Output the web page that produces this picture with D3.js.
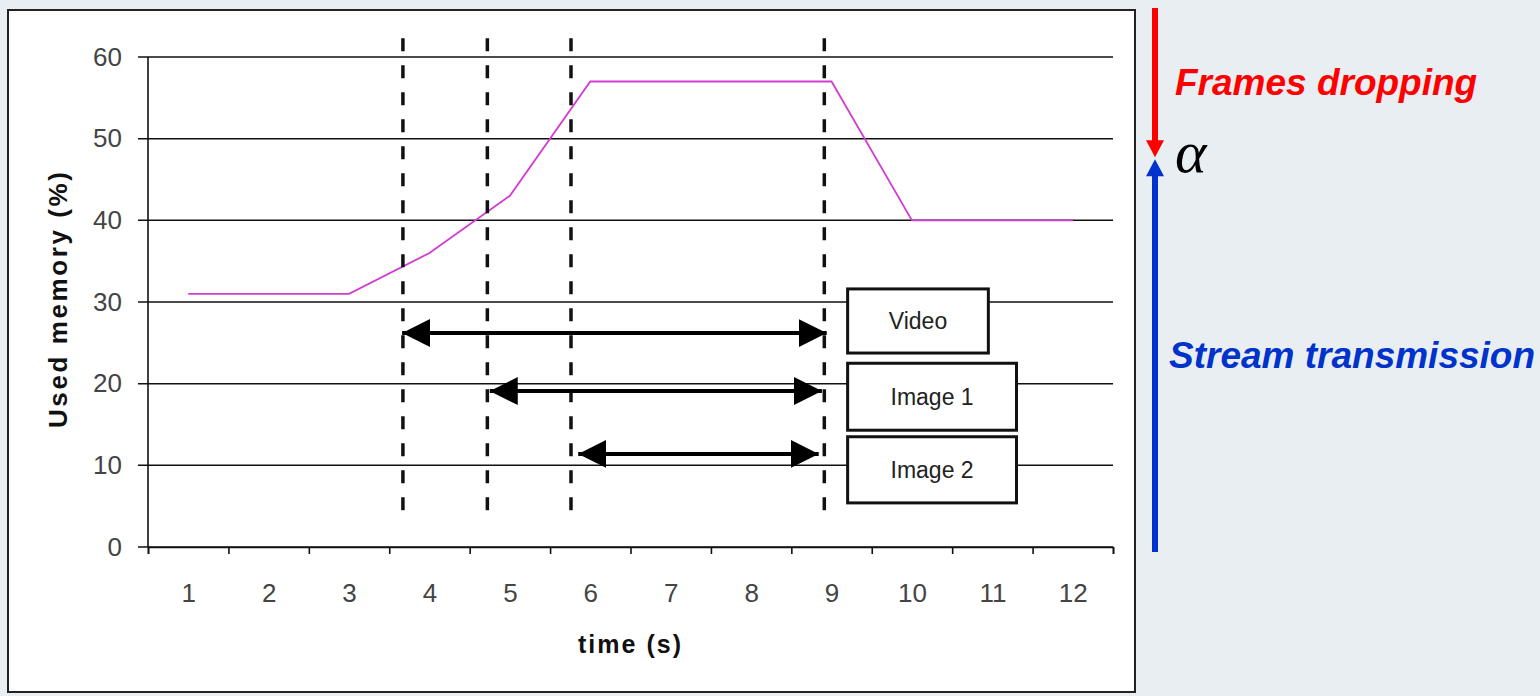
<!DOCTYPE html>
<html>
<head>
<meta charset="utf-8">
<script src="https://cdn.jsdelivr.net/npm/d3@7"></script>
<style>
  body { margin: 0; background: #e9eef3; }
  svg { display: block; }
</style>
</head>
<body>
<div id="chart"></div>
<script>
// data
const times = [1, 2, 3, 4, 5, 6, 7, 8, 9, 10, 11, 12];
const usedMemory = [31, 31, 31, 36, 43, 57, 57, 57, 57, 40, 40, 40];
const yTicks = [0, 10, 20, 30, 40, 50, 60];

// dashed event markers (time, s)
const markerTimes = [3.67, 4.72, 5.76, 8.91];

// stream intervals: double arrows + labelled boxes
const streamNames = ["Video", "Image 1", "Image 2"];
const streamStart = [3.66, 4.75, 5.85];
const streamEnd = [8.94, 8.88, 8.84];
const streamLevel = [26.2, 19.1, 11.4];
const boxLeft = [9.2, 9.2, 9.2];
const boxRight = [10.95, 11.3, 11.3];
const boxTop = [31.6, 22.5, 13.5];
const boxBottom = [23.75, 14.3, 5.4];

// threshold alpha (memory %)
const alphaLevel = 47.6;
const sideLabels = ["Frames dropping", "Stream transmission"];

const W = 1540, H = 696;
const margin = {top: 57, right: 427, bottom: 149, left: 148};

const svg = d3.select("#chart").append("svg")
    .attr("width", W)
    .attr("height", H);

// white chart frame
svg.append("rect")
    .attr("x", 8).attr("y", 10)
    .attr("width", 1127).attr("height", 682)
    .attr("fill", "white")
    .attr("stroke", "#222")
    .attr("stroke-width", 2);

const x = d3.scaleLinear().domain([0.5, 12.5]).range([margin.left, W - margin.right]);
const y = d3.scaleLinear().domain([0, 60]).range([H - margin.bottom, margin.top]);

const g = svg.append("g");

// gridlines (extend a bit left as ticks)
g.selectAll(".grid")
    .data(yTicks)
    .enter().append("line")
    .attr("x1", x(0.5) - 10)
    .attr("x2", x(12.5))
    .attr("y1", d => y(d))
    .attr("y2", d => y(d))
    .attr("stroke", "#111")
    .attr("stroke-width", 1.5);

// y axis line
g.append("line")
    .attr("x1", x(0.5)).attr("x2", x(0.5))
    .attr("y1", y(0)).attr("y2", y(60))
    .attr("stroke", "#111")
    .attr("stroke-width", 1.6);

// y tick labels
const yAxis = g.append("g")
    .attr("transform", "translate(" + (x(0.5) - 26) + ",0)")
    .call(d3.axisLeft(y).tickValues(yTicks).tickSize(0).tickPadding(0));
yAxis.select(".domain").remove();
yAxis.selectAll("text")
    .attr("font-family", "Liberation Sans, Arial, sans-serif")
    .attr("font-size", 26)
    .attr("fill", "#444");

// x axis: ticks between categories
const boundaries = d3.range(0, 13).map(i => i + 0.5);
const xTicks = g.append("g")
    .attr("transform", "translate(0," + y(0) + ")")
    .call(d3.axisBottom(x).tickValues(boundaries).tickSize(7).tickFormat(""));
xTicks.select(".domain").attr("stroke", "#111").attr("stroke-width", 1.6);
xTicks.selectAll(".tick line").attr("stroke", "#111").attr("stroke-width", 1.6);

const xLabels = g.append("g")
    .attr("transform", "translate(0," + (y(0) + 34) + ")")
    .call(d3.axisBottom(x).tickValues(times).tickSize(0).tickFormat(d3.format("d")));
xLabels.select(".domain").remove();
xLabels.selectAll("text")
    .attr("font-family", "Liberation Sans, Arial, sans-serif")
    .attr("font-size", 26)
    .attr("fill", "#444");

// axis titles
g.append("text")
    .attr("x", x(6.5))
    .attr("y", 653)
    .attr("text-anchor", "middle")
    .attr("font-family", "Liberation Sans, Arial, sans-serif")
    .attr("font-size", 25)
    .attr("font-weight", "bold")
    .attr("letter-spacing", 2)
    .attr("fill", "#111")
    .text("time (s)");

g.append("text")
    .attr("transform", "translate(67," + y(30.4) + ") rotate(-90)")
    .attr("text-anchor", "middle")
    .attr("font-family", "Liberation Sans, Arial, sans-serif")
    .attr("font-size", 26)
    .attr("font-weight", "bold")
    .attr("letter-spacing", 2.6)
    .attr("fill", "#111")
    .text("Used memory (%)");

// memory line
const memLine = d3.line()
    .x((d, i) => x(times[i]))
    .y(d => y(d));

g.append("path")
    .datum(usedMemory)
    .attr("fill", "none")
    .attr("stroke", "#d23cd2")
    .attr("stroke-width", 1.8)
    .attr("d", memLine);

// dashed event markers
g.selectAll(".marker")
    .data(markerTimes)
    .enter().append("line")
    .attr("x1", d => x(d)).attr("x2", d => x(d))
    .attr("y1", y(62.3)).attr("y2", y(3.3))
    .attr("stroke", "#111")
    .attr("stroke-width", 3.5)
    .attr("stroke-dasharray", "13,14");

// arrowhead marker
const defs = svg.append("defs");
defs.append("marker")
    .attr("id", "head")
    .attr("markerUnits", "userSpaceOnUse")
    .attr("viewBox", "0 0 28 28")
    .attr("markerWidth", 28)
    .attr("markerHeight", 28)
    .attr("refX", 28)
    .attr("refY", 14)
    .attr("orient", "auto-start-reverse")
    .append("path")
    .attr("d", "M0,0 L28,14 L0,28 Z")
    .attr("fill", "#000");

g.selectAll(".span")
    .data(streamNames)
    .enter().append("line")
    .attr("x1", (d, i) => x(streamStart[i]))
    .attr("x2", (d, i) => x(streamEnd[i]))
    .attr("y1", (d, i) => y(streamLevel[i]))
    .attr("y2", (d, i) => y(streamLevel[i]))
    .attr("stroke", "#000")
    .attr("stroke-width", 4)
    .attr("marker-start", "url(#head)")
    .attr("marker-end", "url(#head)");

// labelled boxes
const boxes = g.selectAll(".box")
    .data(streamNames)
    .enter().append("g");

boxes.append("rect")
    .attr("x", (d, i) => x(boxLeft[i]))
    .attr("y", (d, i) => y(boxTop[i]))
    .attr("width", (d, i) => x(boxRight[i]) - x(boxLeft[i]))
    .attr("height", (d, i) => y(boxBottom[i]) - y(boxTop[i]))
    .attr("fill", "white")
    .attr("stroke", "#111")
    .attr("stroke-width", 3);

boxes.append("text")
    .attr("x", (d, i) => (x(boxLeft[i]) + x(boxRight[i])) / 2)
    .attr("y", (d, i) => (y(boxTop[i]) + y(boxBottom[i])) / 2)
    .attr("dy", "0.36em")
    .attr("text-anchor", "middle")
    .attr("font-family", "Liberation Sans, Arial, sans-serif")
    .attr("font-size", 23)
    .attr("fill", "#222")
    .text(d => d);

// right side: threshold arrows
const ax = 1155;
const tip = y(alphaLevel);
const headLen = 17, headHalf = 9;

svg.append("line")
    .attr("x1", ax).attr("x2", ax)
    .attr("y1", 8).attr("y2", tip - headLen)
    .attr("stroke", "#ff0000")
    .attr("stroke-width", 6);
svg.append("path")
    .attr("d", "M" + (ax - headHalf) + "," + (tip - 1 - headLen) + " L" + (ax + headHalf) + "," + (tip - 1 - headLen) + " L" + ax + "," + (tip - 1) + " Z")
    .attr("fill", "#ff0000");

svg.append("line")
    .attr("x1", ax).attr("x2", ax)
    .attr("y1", y(0) + 5).attr("y2", tip + headLen)
    .attr("stroke", "#0033cc")
    .attr("stroke-width", 6);
svg.append("path")
    .attr("d", "M" + (ax - headHalf) + "," + (tip + 1 + headLen) + " L" + (ax + headHalf) + "," + (tip + 1 + headLen) + " L" + ax + "," + (tip + 1) + " Z")
    .attr("fill", "#0033cc");

svg.append("text")
    .attr("x", 1175)
    .attr("y", tip + 14)
    .attr("font-family", "Liberation Serif, Times New Roman, serif")
    .attr("font-style", "italic")
    .attr("font-size", 60)
    .attr("fill", "#000")
    .text("α");

svg.append("text")
    .attr("x", 1175)
    .attr("y", 95)
    .attr("font-family", "Liberation Sans, Arial, sans-serif")
    .attr("font-weight", "bold")
    .attr("font-style", "italic")
    .attr("font-size", 37)
    .attr("fill", "#ff0000")
    .text(sideLabels[0]);

svg.append("text")
    .attr("x", 1169)
    .attr("y", 368)
    .attr("font-family", "Liberation Sans, Arial, sans-serif")
    .attr("font-weight", "bold")
    .attr("font-style", "italic")
    .attr("font-size", 37)
    .attr("fill", "#0033cc")
    .text(sideLabels[1]);
</script>
</body>
</html>
